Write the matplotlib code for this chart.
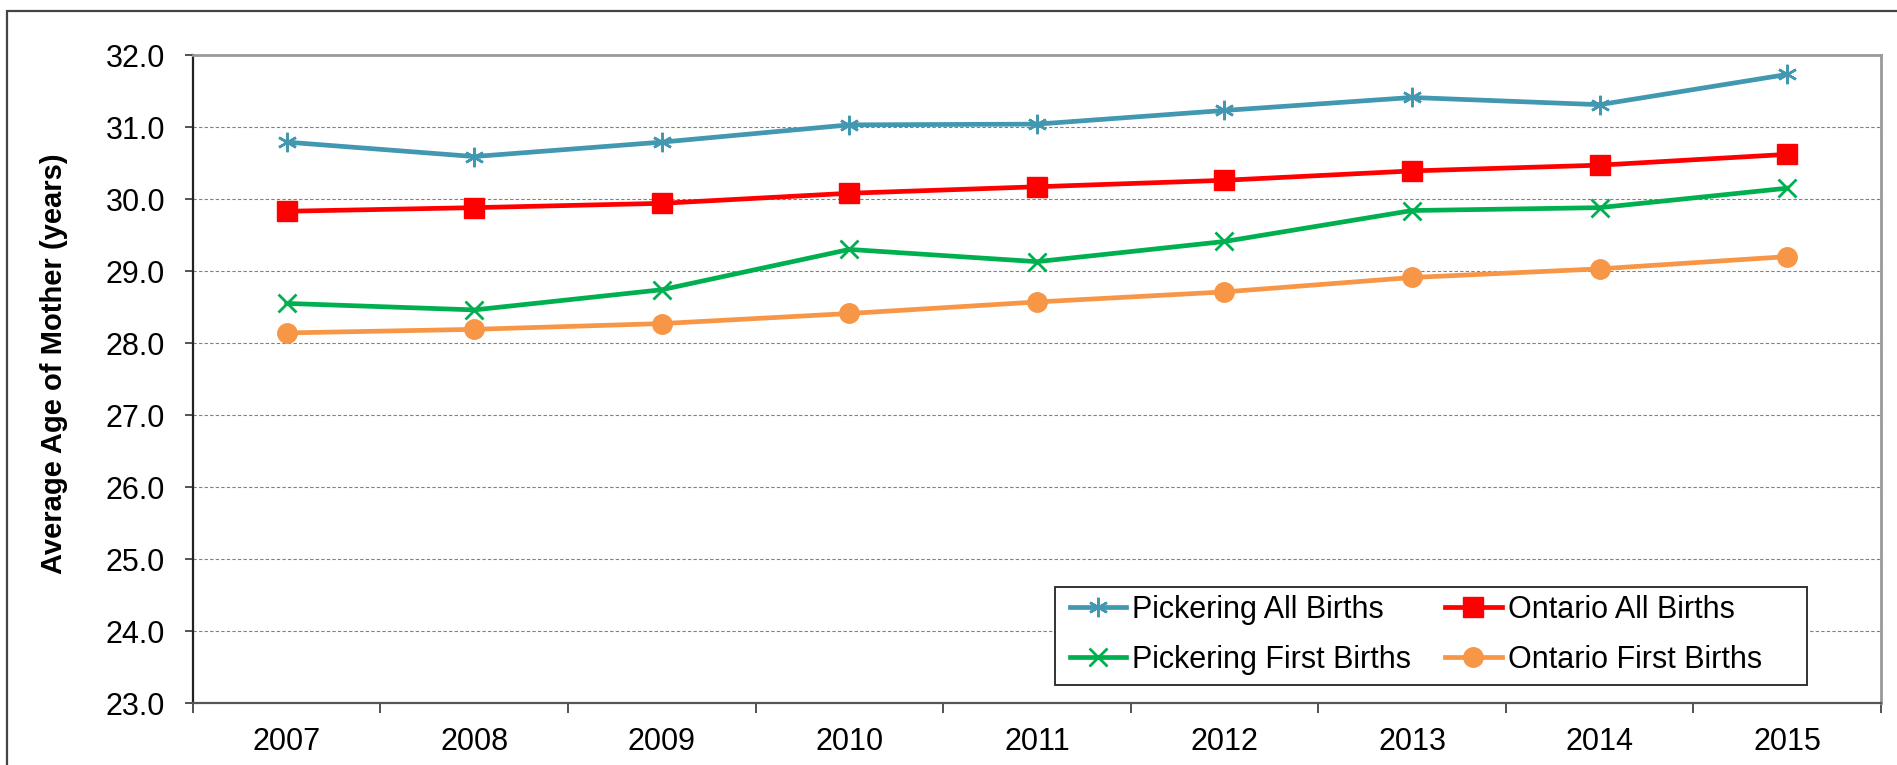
import matplotlib
matplotlib.use("Agg")
import matplotlib.pyplot as plt
from matplotlib.patches import Rectangle

years = ["2007", "2008", "2009", "2010", "2011", "2012", "2013", "2014", "2015"]
pickering_all = [30.79, 30.59, 30.79, 31.03, 31.04, 31.23, 31.41, 31.31, 31.73]
ontario_all = [29.83, 29.88, 29.94, 30.08, 30.17, 30.26, 30.39, 30.47, 30.62]
pickering_first = [28.55, 28.46, 28.74, 29.30, 29.13, 29.41, 29.84, 29.88, 30.15]
ontario_first = [28.14, 28.19, 28.27, 28.41, 28.57, 28.71, 28.91, 29.03, 29.20]
yticks = [23.0, 24.0, 25.0, 26.0, 27.0, 28.0, 29.0, 30.0, 31.0, 32.0]

plt.rcParams['font.family'] = ['Liberation Sans', 'DejaVu Sans']

fig = plt.figure(figsize=(18.97, 7.65), dpi=100)
ax = fig.add_axes([0.1017, 0.0810, 0.8898, 0.8471])

x = list(range(len(years)))
lw = 3.4
h1, = ax.plot(x, pickering_all, color='#4198B0', lw=lw, marker=(6, 2, 0), ms=14, mew=1.8,
              label='Pickering All Births', zorder=3)
h2, = ax.plot(x, ontario_all, color='#FF0000', lw=lw, marker='s', ms=14,
              label='Ontario All Births', zorder=3)
h3, = ax.plot(x, pickering_first, color='#00B050', lw=lw, marker='x', ms=13, mew=2.0,
              label='Pickering First Births', zorder=3)
h4, = ax.plot(x, ontario_first, color='#F79646', lw=lw, marker='o', ms=14,
              label='Ontario First Births', zorder=3)

ax.set_ylim(23.0, 32.0)
ax.set_yticks(yticks)
ax.set_yticklabels([f"{v:.1f}" for v in yticks], fontsize=22)
ax.set_xlim(-0.5, len(years) - 0.5)
ax.set_xticks(x)
ax.set_xticklabels(years, fontsize=22)
ax.set_xticks([i - 0.5 for i in range(len(years) + 1)], minor=True)
ax.tick_params(axis='x', which='major', length=0, pad=17)
ax.tick_params(axis='x', which='minor', length=7, width=1.3, direction='out', color='#444444')
ax.tick_params(axis='y', length=6, width=1.3, direction='out', color='#444444', pad=14)

ax.grid(axis='y', which='major', linestyle=(0, (3, 2)), color='#808080', lw=0.8)
ax.set_axisbelow(True)

ax.spines['left'].set_color('#222222')
ax.spines['bottom'].set_color('#555555')
for s in ['left', 'bottom']:
    ax.spines[s].set_linewidth(1.6)
for s in ['top', 'right']:
    ax.spines[s].set_color('#999999')
    ax.spines[s].set_linewidth(2.0)

ax.set_ylabel('Average Age of Mother (years)', fontsize=21, fontweight='bold')
ax.yaxis.set_label_coords(-0.074, 0.523)

# legend frame drawn separately
ax.add_patch(Rectangle((0.5107, 0.0278), 0.4453, 0.151, transform=ax.transAxes,
                       facecolor='white', edgecolor='#333333', lw=1.4, zorder=4))
leg = ax.legend(handles=[h1, h3, h2, h4], ncol=2, loc='center left',
                bbox_to_anchor=(0.5195, 0.105), frameon=False,
                fontsize=22, handlelength=1.85, handletextpad=0.2, columnspacing=1.1,
                borderpad=0.0, labelspacing=0.65, borderaxespad=0.0)
leg.set_zorder(5)

fig.patches.append(Rectangle((0.0037, -0.02), 1.02, 1.0056, transform=fig.transFigure,
                             fill=False, edgecolor='#444444', lw=1.6))

fig.savefig('out.png', dpi=100)
